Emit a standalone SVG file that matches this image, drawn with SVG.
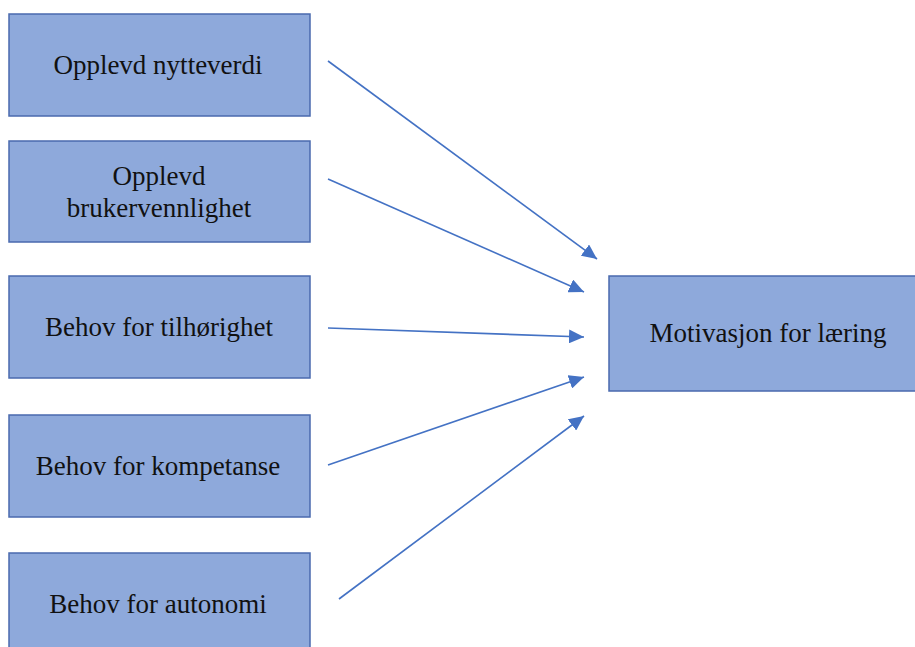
<svg xmlns="http://www.w3.org/2000/svg" width="915" height="647" viewBox="0 0 915 647">
<style>
.box{fill:#8EA9DB;stroke:#4A6AAE;stroke-width:1.5}
.lbl{font-family:"Liberation Serif","Times New Roman",serif;font-size:27px;fill:#111;text-anchor:middle}
.conn{stroke:#4472C4;stroke-width:1.6;fill:none;marker-end:url(#ah)}
</style>
<defs>
<marker id="ah" markerUnits="userSpaceOnUse" markerWidth="16" markerHeight="14" refX="15" refY="7" orient="auto">
<path d="M0,0 L15,7 L0,14 Z" fill="#4472C4"/>
</marker>
</defs>
<rect width="915" height="647" fill="#fff"/>
<g id="n1"><rect class="box" x="9" y="14" width="301" height="102"/><text class="lbl" x="158" y="74">Opplevd nytteverdi</text></g>
<g id="n2"><rect class="box" x="9" y="141" width="301" height="101"/><text class="lbl" x="159" y="185">Opplevd</text><text class="lbl" x="159" y="217">brukervennlighet</text></g>
<g id="n3"><rect class="box" x="9" y="276" width="301" height="102"/><text class="lbl" x="159" y="336">Behov for tilhørighet</text></g>
<g id="n4"><rect class="box" x="9" y="415" width="301" height="102"/><text class="lbl" x="158" y="475">Behov for kompetanse</text></g>
<g id="n5"><rect class="box" x="9" y="553" width="301" height="100"/><text class="lbl" x="158" y="613">Behov for autonomi</text></g>
<g id="n6"><rect class="box" x="609" y="276" width="310" height="115"/><text class="lbl" x="768" y="342">Motivasjon for læring</text></g>
<g id="connectors">
<line class="conn" x1="328" y1="61" x2="597" y2="259"/>
<line class="conn" x1="328" y1="179" x2="584" y2="292"/>
<line class="conn" x1="328" y1="328" x2="584" y2="337"/>
<line class="conn" x1="328" y1="465" x2="584" y2="377"/>
<line class="conn" x1="339" y1="599" x2="584" y2="416"/>
</g>
</svg>
